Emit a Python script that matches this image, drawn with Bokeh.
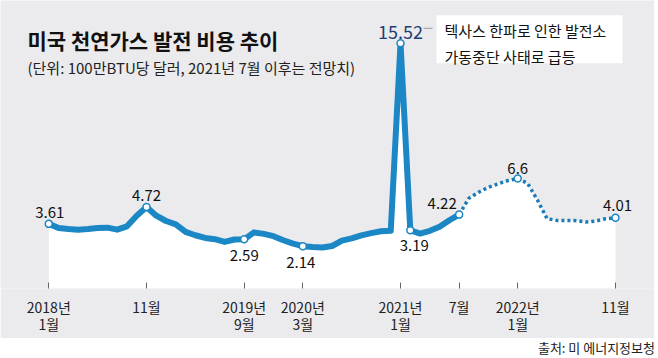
from bokeh.plotting import figure
from bokeh.models import FixedTicker, Range1d, Div, ColumnDataSource
from bokeh.layouts import column
from bokeh.core.properties import value
from bokeh.embed import file_html
from bokeh.resources import INLINE

# ---------------- data ----------------
# month index: 0 = 2018-01
hist_months = list(range(0, 43))
hist_price = [3.61, 3.34, 3.27, 3.23, 3.27, 3.34, 3.36, 3.23, 3.45, 4.15, 4.72,
              4.15, 3.80, 3.58, 3.08, 2.86, 2.68, 2.60, 2.42, 2.58, 2.59,
              3.05, 2.95, 2.80, 2.53, 2.31, 2.14,
              2.08, 2.05, 2.15, 2.50, 2.65, 2.85, 3.00, 3.12, 3.15, 15.52,
              3.19, 2.97, 3.15, 3.42, 3.85, 4.22]
fcst_months = list(range(42, 59))
fcst_price = [4.22, 5.30, 5.70, 6.03, 6.25, 6.47, 6.60, 6.29, 5.20, 3.95,
              3.84, 3.84, 3.82, 3.73, 3.80, 3.95, 4.01]

tick_months = [0, 10, 20, 26, 36, 42, 48, 58]
tick_labels = ["2018년\n1월", "11월", "2019년\n9월", "2020년\n3월",
               "2021년\n1월", "7월", "2022년\n1월", "11월"]

label_months = [0, 10, 20, 26, 37, 42, 48, 58]
peak_month = 36

title_text = "미국 천연가스 발전 비용 추이"
subtitle_text = "(단위: 100만BTU당 달러, 2021년 7월 이후는 전망치)"
note_text = "텍사스 한파로 인한 발전소\n가동중단 사태로 급등"
source_text = "출처: 미 에너지정보청"

# ---------------- styling / layout ----------------
BG = "#ebebed"
BLUE = "#1b87c5"
BLUE2 = "#1a7cb6"
NAVY = "#1f3f72"
FONT = "Noto Sans CJK KR"

FIG_W, FIG_H = 654, 338
BOTTOM = 50
FRAME_W, FRAME_H = FIG_W, FIG_H - BOTTOM
PPM = 9.77            # pixels per month
X0_PX = 48.3          # pixel position of month 0
PPU = 15.16           # pixels per unit of price
Y0_PX = 278.1         # pixel position of price 0 (from top)

x_start = -X0_PX / PPM
x_end = x_start + FRAME_W / PPM
y_end = Y0_PX / PPU
y_start = y_end - FRAME_H / PPU

def dx(px):
    return px / PPM

def dy(px):
    return px / PPU

all_months = hist_months + fcst_months[1:]
all_price = hist_price + fcst_price[1:]
price_of = dict(zip(all_months, all_price))

p = figure(width=FIG_W, height=FIG_H,
           x_range=Range1d(x_start, x_end), y_range=Range1d(y_start, y_end),
           output_backend="svg", toolbar_location=None,
           min_border_left=0, min_border_right=0, min_border_top=0,
           min_border_bottom=BOTTOM,
           background_fill_color=BG, border_fill_color=BG,
           outline_line_color=None)
p.grid.visible = False
p.yaxis.visible = False

ax = p.xaxis[0]
ax.ticker = FixedTicker(ticks=tick_months)
ax.major_label_overrides = {m: t for m, t in zip(tick_months, tick_labels)}
ax.axis_line_color = None
ax.major_tick_in = 6
ax.major_tick_out = 0
ax.major_tick_line_color = "#666666"
ax.minor_tick_line_color = None
ax.major_label_standoff = 8
ax.major_label_text_font = FONT
ax.major_label_text_font_size = "14px"
ax.major_label_text_line_height = 0.86
ax.major_label_text_color = "#222222"

# white area under the line
p.varea(x=all_months, y1=y_start, y2=all_price, fill_color="white")

# lines
p.line(hist_months, hist_price, line_width=6, line_color=BLUE,
       line_join="round", line_cap="round")
p.line(fcst_months, fcst_price, line_width=3.5, line_color=BLUE2,
       line_dash="3 3", line_cap="butt")

# markers
mk = label_months + [peak_month]
p.scatter(mk, [price_of[m] for m in mk], size=7, fill_color="white",
          line_color=BLUE, line_width=1.5)

# value labels
offsets = {0: (1, -11), 10: (0, -12), 20: (0, 16), 26: (-2, 16),
           37: (4, 15), 42: (-17, -11), 48: (0, -10), 58: (2, -12)}
src = ColumnDataSource(dict(
    x=label_months,
    y=[price_of[m] for m in label_months],
    t=[f"{price_of[m]:g}" for m in label_months],
    xo=[offsets[m][0] for m in label_months],
    yo=[offsets[m][1] for m in label_months],
))
p.text(x="x", y="y", text="t", x_offset="xo", y_offset="yo", source=src,
       text_font=value(FONT), text_font_size="15px", text_color="#111111",
       text_align="center", text_baseline="middle")

pk_y = price_of[peak_month]
p.text(x=[peak_month], y=[pk_y], text=[f"{pk_y:g}"], y_offset=-11,
       text_font=value(FONT), text_font_size="18px", text_color=NAVY,
       text_align="center", text_baseline="middle")
# connector and note box
p.segment(x0=[peak_month + dx(23)], y0=[pk_y + dy(15)],
          x1=[peak_month + dx(32)], y1=[pk_y + dy(15)],
          line_color="#9a9a9a", line_width=1)
p.quad(left=[peak_month + dx(36)], right=[peak_month + dx(222)],
       top=[pk_y + dy(28)], bottom=[pk_y - dy(20)],
       fill_color="white", line_color=None)
p.text(x=[peak_month + dx(44)], y=[pk_y + dy(23)], text=[note_text],
       text_font=value(FONT), text_font_size="15px", text_color="#111111",
       text_align="left", text_baseline="top", text_line_height=1.2)

# title and subtitle
p.text(x=[x_start + dx(27)], y=[y_end - dy(24.5)], text=[title_text],
       text_font=value(FONT), text_font_size="21px", text_font_style="bold",
       text_color="#111111", text_align="left", text_baseline="top")
p.text(x=[x_start + dx(27)], y=[y_end - dy(56.5)], text=[subtitle_text],
       text_font=value(FONT), text_font_size="15px",
       text_color="#222222", text_align="left", text_baseline="top")

src_div = Div(text=source_text, width=658, height=20, margin=0,
              styles={"font-family": f"'{FONT}'", "font-size": "13px",
                      "line-height": "16px", "color": "#222222",
                      "text-align": "right", "padding-top": "2px",
                      "box-sizing": "border-box", "overflow": "visible",
                      "padding-right": "3px", "background": "white"})

layout = column(p, src_div, spacing=0)
open("out.html", "w").write(file_html(layout, INLINE))
